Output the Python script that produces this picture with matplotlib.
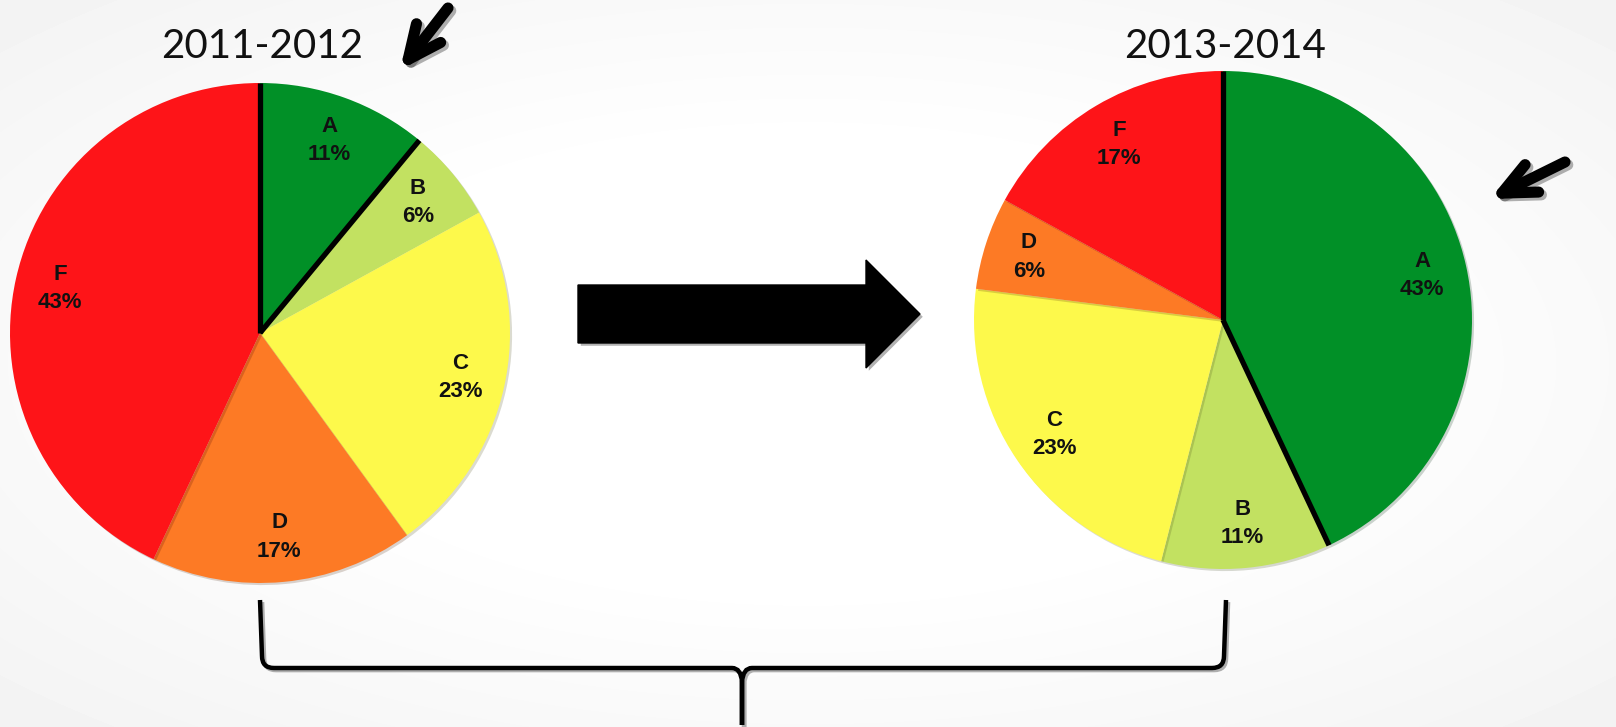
import numpy as np
import matplotlib
matplotlib.use("Agg")
import matplotlib.pyplot as plt
import matplotlib.patches as mpatches
import matplotlib.patheffects as pe
from matplotlib.path import Path

# data
grades = ['A', 'B', 'C', 'D', 'F']
share_2011 = [11, 6, 23, 17, 43]
share_2013 = [43, 11, 23, 6, 17]
grade_colors = ['#019027', '#c2e161', '#fdf94b', '#fd7a25', '#fe1418']
titles = ['2011-2012', '2013-2014']

W, H = 1616, 727
fig = plt.figure(figsize=(W / 100, H / 100), dpi=100)
ax = fig.add_axes([0, 0, 1, 1])

# light vignette background
yy, xx = np.mgrid[0:H, 0:W]
r = np.sqrt(((xx - W / 2) / (W / 2)) ** 2 + ((yy - H / 2) / (H / 2)) ** 2)
bg = 1.0 - 0.06 * np.clip(r - 0.6, 0, None)
ax.imshow(bg, cmap='gray', vmin=0, vmax=1, extent=[0, W, 0, H], zorder=0)


def draw_pie(values, center, radius, title):
    wedges, _ = ax.pie(values, colors=grade_colors, startangle=90, counterclock=False,
                       center=center, radius=radius, frame=True,
                       wedgeprops=dict(linewidth=0, zorder=2))
    for w in wedges:
        w.set_path_effects([pe.SimplePatchShadow(offset=(1.5, -1.5), alpha=0.2), pe.Normal()])
    for w, g, v in zip(wedges, grades, values):
        mid = np.radians((w.theta1 + w.theta2) / 2)
        tx = center[0] + 0.82 * radius * np.cos(mid)
        ty = center[1] + 0.82 * radius * np.sin(mid)
        ax.text(tx, ty, f'{g}\n{v}%', ha='center', va='center', fontsize=16,
                fontweight='bold', color='#111111', family='Liberation Sans',
                linespacing=1.45, zorder=4)
    # black lines along the edges of the A wedge
    a = wedges[0]
    for ang in (a.theta1, a.theta2):
        t = np.radians(ang)
        ax.plot([center[0], center[0] + radius * np.cos(t)],
                [center[1], center[1] + radius * np.sin(t)],
                color='black', lw=3.8, solid_capstyle='butt', zorder=3)
    ax.text(center[0] + 2, H - 47, title, ha='center', va='center', fontsize=29,
            family='Lato', color='#111111')


draw_pie(share_2011, (260, H - 333), 250, titles[0])
draw_pie(share_2013, (1223, H - 320), 249, titles[1])

# big arrow between the pies
big = mpatches.FancyArrow(578, H - 314, 342, 0, width=58, head_width=108, head_length=54,
                          length_includes_head=True, color='black', zorder=3)
big.set_path_effects([pe.SimplePatchShadow(offset=(2, -2), alpha=0.3), pe.Normal()])
ax.add_patch(big)

# small pointer arrows
for tail, tip in [((448, 8), (400, 70)), ((1565, 162), (1490, 199))]:
    ax.annotate('', xy=(tip[0], H - tip[1]), xytext=(tail[0], H - tail[1]),
                arrowprops=dict(arrowstyle='->,head_length=2.4,head_width=1.1',
                                color='black', lw=8, capstyle='round',
                                joinstyle='round', shrinkA=0, shrinkB=0,
                                path_effects=[pe.SimpleLineShadow(offset=(2, -2), alpha=0.3),
                                              pe.Normal()]),
                zorder=3)

# brace under both pies
xl, xr, xm = 260, 1226, 742
top, mid_y, bot = 600, 668, 725
verts = [(xl, top), (xl + 2, mid_y - 12), (xl + 2, mid_y), (xl + 14, mid_y),
         (xm - 10, mid_y), (xm - 1, mid_y), (xm, mid_y + 14), (xm, bot),
         (xm, mid_y + 14), (xm + 1, mid_y), (xm + 10, mid_y),
         (xr - 14, mid_y), (xr - 2, mid_y), (xr - 2, mid_y - 12), (xr, top)]
codes = [Path.MOVETO, Path.LINETO, Path.CURVE3, Path.CURVE3,
         Path.LINETO, Path.CURVE3, Path.CURVE3, Path.LINETO,
         Path.LINETO, Path.CURVE3, Path.CURVE3,
         Path.LINETO, Path.CURVE3, Path.CURVE3, Path.LINETO]
verts = [(x, H - y) for x, y in verts]
brace = mpatches.PathPatch(Path(verts, codes), fill=False, lw=3.2, edgecolor='black',
                           joinstyle='miter', zorder=3)
brace.set_path_effects([pe.SimpleLineShadow(offset=(1.5, -1.5), alpha=0.3), pe.Normal()])
ax.add_patch(brace)

ax.set_xlim(0, W)
ax.set_ylim(0, H)
ax.set_aspect('auto')
ax.axis('off')

fig.savefig('out.png', dpi=100)
